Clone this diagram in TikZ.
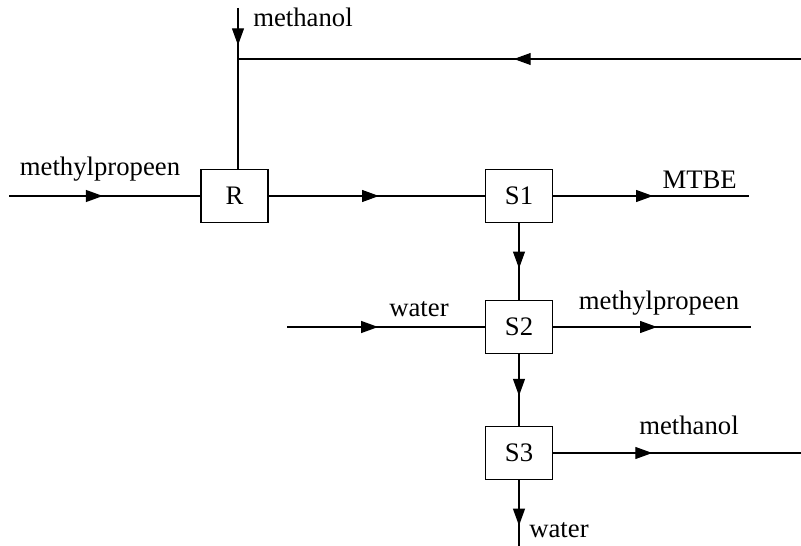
\documentclass[tikz,border=0pt]{standalone}
\usepackage{fontspec}
\setmainfont{Liberation Serif}
\usetikzlibrary{arrows.meta,decorations.markings}

\tikzset{
  unit/.style={draw, line width=0.8pt, minimum width=1.675cm, minimum height=1.325cm, inner sep=0pt},
  stream/.style={line width=0.8pt},
  flow/.style={stream, postaction={decorate},
    decoration={markings, mark=at position #1 with {\arrow{Triangle[length=12pt,width=8.5pt]}}}},
  lbl/.style={anchor=base, inner sep=0pt}
}

\begin{document}
\begin{tikzpicture}[font=\fontsize{19}{22}\selectfont]
      \useasboundingbox (0,0) rectangle (20.025,13.65);

      % units
      \node[unit] (R)  at (5.8625, 8.75)  {R};
      \node[unit] (S1) at (12.975, 8.75)  {S1};
      \node[unit] (S2) at (12.975, 5.475) {S2};
      \node[unit] (S3) at (12.975, 2.325) {S3};

      % free ends
      \coordinate (feedA)  at (0.225, 8.75);
      \coordinate (feedM)  at (5.95, 13.45);
      \coordinate (join)   at (5.95, 12.175);
      \coordinate (recyc)  at (20.025, 12.175);
      \coordinate (outA)   at (18.725, 8.75);
      \coordinate (feedW)  at (7.175, 5.475);
      \coordinate (outB)   at (18.775, 5.475);
      \coordinate (outC)   at (20.025, 2.325);
      \coordinate (outW)   at (12.975, 0);

      % streams
      \draw[flow=0.49] (feedA) -- (R.west);
      \draw[flow=0.73] (feedM) -- (join);
      \draw[flow=0.51] (recyc) -- (join);
      \draw[stream]    (join) -- (join |- R.north);
      \draw[flow=0.51] (R.east) -- (S1.west);
      \draw[flow=0.51] (S1.east) -- (outA);
      \draw[flow=0.59] (S1.south) -- (S2.north);
      \draw[flow=0.46] (feedW) -- (S2.west);
      \draw[flow=0.525] (S2.east) -- (outB);
      \draw[flow=0.58] (S2.south) -- (S3.north);
      \draw[flow=0.40] (S3.east) -- (outC);
      \draw[flow=0.69] (S3.south) -- (outW);

      % labels
      \node[lbl] (mpIn)   at (2.5, 9.25)    {methylpropeen};
      \node[lbl] (meIn)   at (7.575, 12.975) {methanol};
      \node[lbl] (mtbe)   at (17.49, 8.925) {MTBE};
      \node[lbl] (wIn)    at (10.475, 5.725) {water};
      \node[lbl] (mpOut)  at (16.475, 5.9)  {methylpropeen};
      \node[lbl] (meOut)  at (17.225, 2.775) {methanol};
      \node[lbl] (wOut)   at (13.975, 0.2)  {water};
\end{tikzpicture}
\end{document}
